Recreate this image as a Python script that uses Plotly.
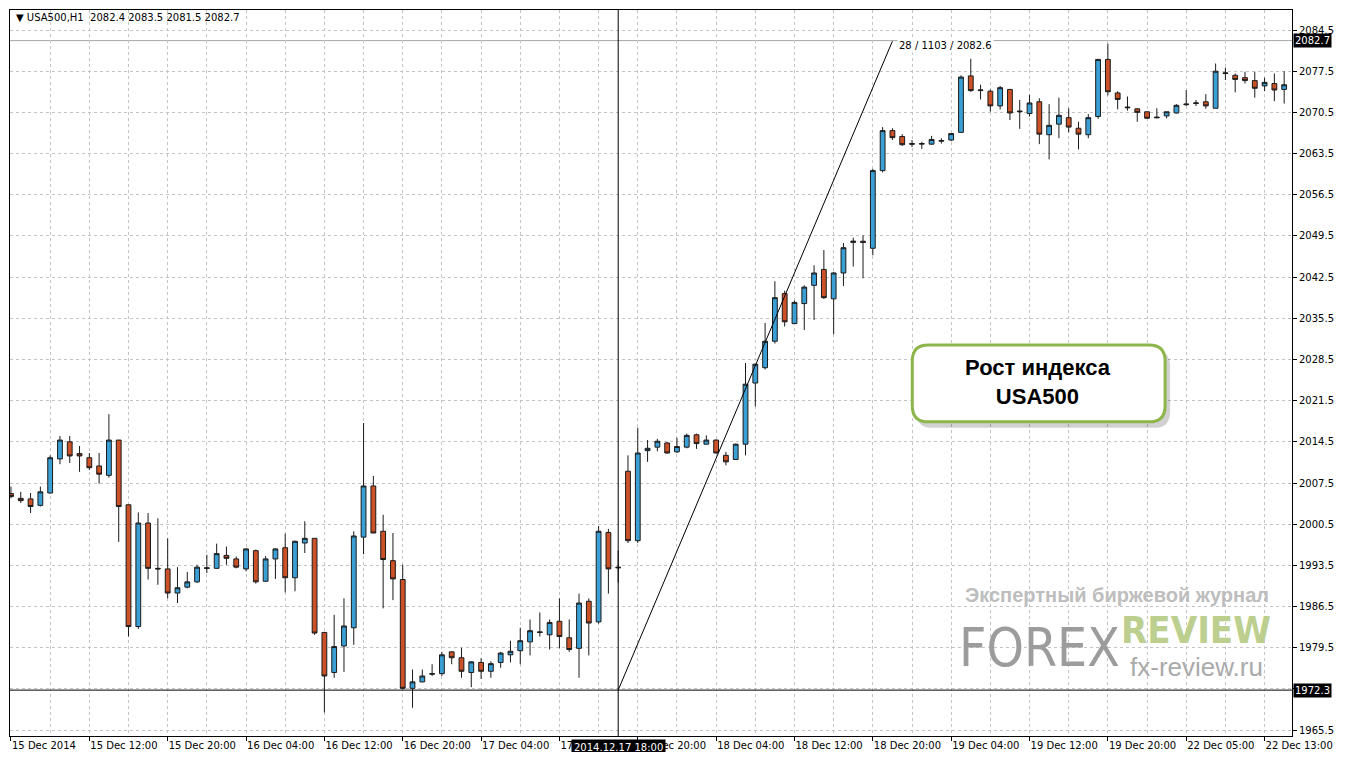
import plotly.graph_objects as go

# ---------------- data (H1 bars, index 0 .. 130) ----------------
bar_index = list(range(131))
open_ = [2005.7, 2004.9, 2004.8, 2003.7, 2005.8, 2011.6, 2014.5, 2012.5, 2011.8, 2010.4,
         2008.8, 2014.8, 2003.8, 1983.1, 2000.7, 1993.0, 1992.9, 1988.8, 1989.8, 1990.7,
         1993.1, 1993.0, 1995.2, 1994.6, 1992.9, 1996.0, 1990.8, 1994.6, 1996.5, 1991.4,
         1997.3, 1998.1, 1982.1, 1975.3, 1979.8, 1982.9, 1998.3, 2007.0, 1999.3, 1994.3,
         1991.1, 1972.6, 1973.7, 1975.0, 1975.1, 1978.8, 1977.8, 1975.3, 1977.0, 1975.5,
         1977.0, 1978.3, 1979.0, 1980.5, 1982.2, 1981.7, 1984.0, 1981.2, 1979.4, 1987.4,
         1983.9, 1999.1, 1993.2, 2009.5, 1997.7, 2013.0, 2013.6, 2014.3, 2012.8, 2013.6,
         2015.7, 2014.1, 2014.8, 2012.2, 2011.5, 2014.1, 2024.5, 2027.1, 2031.6, 2039.7,
         2034.6, 2038.0, 2041.1, 2043.8, 2038.8, 2043.2, 2048.4, 2048.6, 2047.4, 2060.6,
         2067.4, 2066.4, 2065.2, 2065.1, 2065.1, 2065.6, 2065.8, 2067.1, 2076.7, 2074.2,
         2074.1, 2071.6, 2074.4, 2070.6, 2070.3, 2072.3, 2066.7, 2068.5, 2069.6, 2067.8,
         2066.7, 2069.8, 2079.5, 2073.8, 2071.4, 2071.1, 2070.6, 2069.7, 2069.9, 2070.4,
         2071.8, 2072.0, 2072.3, 2071.2, 2077.1, 2076.8, 2076.4, 2075.9, 2075.0, 2075.4,
         2074.4]
high = [2006.9, 2006.0, 2005.8, 2006.9, 2012.2, 2015.5, 2015.5, 2013.8, 2012.6, 2012.6,
        2019.2, 2014.8, 2003.8, 2002.5, 2002.4, 2001.5, 1998.1, 1993.2, 1992.4, 1993.6,
        1995.3, 1997.2, 1996.7, 1995.0, 1996.4, 1996.2, 1995.1, 1996.4, 1998.9, 1997.7,
        2001.0, 1998.1, 1982.2, 1985.1, 1987.9, 1999.3, 2017.7, 2008.7, 2002.1, 1999.0,
        1993.6, 1975.8, 1975.8, 1976.7, 1978.8, 1978.9, 1979.5, 1977.2, 1977.7, 1977.2,
        1978.8, 1980.7, 1982.9, 1984.3, 1985.5, 1984.3, 1987.9, 1984.3, 1988.7, 1987.9,
        2000.2, 1999.7, 1996.0, 2012.2, 2016.9, 2014.8, 2015.0, 2014.5, 2015.2, 2015.9,
        2015.9, 2015.6, 2014.9, 2012.8, 2014.2, 2027.9, 2027.8, 2034.7, 2041.8, 2040.2,
        2038.5, 2041.1, 2044.5, 2047.1, 2043.4, 2048.3, 2049.2, 2049.6, 2060.9, 2068.0,
        2067.8, 2066.8, 2065.8, 2065.5, 2066.5, 2066.1, 2066.9, 2076.8, 2079.6, 2075.2,
        2074.4, 2075.0, 2074.4, 2072.6, 2073.5, 2072.9, 2071.9, 2073.0, 2071.2, 2068.9,
        2070.2, 2079.5, 2082.2, 2074.1, 2073.2, 2071.2, 2070.6, 2071.2, 2070.6, 2071.9,
        2074.3, 2072.6, 2073.6, 2078.8, 2078.1, 2077.1, 2077.4, 2077.4, 2076.4, 2077.1,
        2077.5]
low = [2004.9, 2004.1, 2002.4, 2003.5, 2005.7, 2010.7, 2010.9, 2009.4, 2009.7, 2007.4,
       2008.4, 1997.5, 1981.4, 1982.7, 1991.1, 1990.2, 1987.9, 1987.1, 1989.6, 1990.5,
       1992.2, 1992.9, 1993.6, 1993.0, 1992.5, 1990.4, 1990.7, 1991.2, 1988.9, 1989.1,
       1995.6, 1981.7, 1968.5, 1974.4, 1975.4, 1980.0, 1995.4, 1999.0, 1986.2, 1987.6,
       1972.4, 1969.3, 1973.6, 1974.7, 1974.7, 1976.7, 1974.4, 1972.8, 1974.2, 1974.4,
       1976.1, 1977.0, 1976.7, 1978.2, 1981.4, 1979.2, 1979.4, 1978.8, 1974.4, 1978.2,
       1983.6, 1988.7, 1990.6, 1997.3, 1997.3, 2011.1, 2012.9, 2012.5, 2012.6, 2013.4,
       2013.3, 2014.1, 2012.5, 2010.5, 2011.5, 2012.2, 2020.5, 2026.8, 2031.2, 2034.1,
       2034.6, 2033.5, 2035.2, 2038.8, 2032.8, 2041.0, 2044.3, 2042.3, 2046.2, 2060.3,
       2065.8, 2064.8, 2064.6, 2064.3, 2065.0, 2065.2, 2065.6, 2067.1, 2074.0, 2072.7,
       2070.6, 2071.0, 2069.2, 2067.7, 2069.8, 2065.1, 2062.5, 2066.1, 2067.1, 2064.2,
       2066.1, 2069.4, 2073.4, 2071.0, 2070.8, 2068.9, 2069.4, 2069.5, 2069.5, 2070.3,
       2071.6, 2071.6, 2071.1, 2071.2, 2076.0, 2073.9, 2075.4, 2073.0, 2074.1, 2072.4,
       2072.0]
close = [2005.2, 2004.5, 2003.5, 2006.0, 2011.8, 2014.8, 2012.1, 2012.1, 2010.1, 2009.0,
         2014.8, 2003.5, 1983.1, 2000.7, 1993.0, 1992.9, 1988.8, 1989.7, 1990.7, 1993.2,
         1993.0, 1995.5, 1994.7, 1993.2, 1996.3, 1990.7, 1994.6, 1996.3, 1991.4, 1997.6,
         1998.1, 1982.0, 1974.7, 1979.7, 1983.2, 1998.5, 2007.0, 1999.0, 1994.5, 1991.2,
         1972.6, 1973.7, 1974.7, 1975.1, 1978.3, 1977.8, 1975.5, 1977.1, 1975.5, 1976.8,
         1978.6, 1978.9, 1980.7, 1982.4, 1982.1, 1983.8, 1981.4, 1979.2, 1987.1, 1983.7,
         1999.3, 1992.9, 1993.1, 1997.7, 2012.6, 2013.4, 2014.6, 2012.6, 2013.7, 2015.6,
         2014.2, 2014.8, 2012.6, 2011.1, 2014.1, 2024.3, 2027.7, 2031.6, 2039.0, 2034.9,
         2038.2, 2040.8, 2043.2, 2039.0, 2043.2, 2047.5, 2048.6, 2048.4, 2060.6, 2067.4,
         2066.2, 2065.0, 2065.1, 2065.2, 2065.9, 2065.7, 2066.9, 2076.5, 2074.2, 2074.3,
         2071.6, 2074.7, 2070.4, 2070.7, 2072.1, 2066.8, 2068.3, 2070.0, 2068.0, 2066.8,
         2069.6, 2079.5, 2074.0, 2072.7, 2071.3, 2070.5, 2069.5, 2069.6, 2070.6, 2071.7,
         2071.9, 2072.1, 2071.6, 2077.5, 2077.2, 2076.1, 2075.9, 2074.6, 2075.6, 2074.3,
         2075.2]

x_tick_bars = [0, 8, 16, 24, 32, 40, 48, 56, 64, 72, 80, 88, 96, 104, 112, 120, 128]
x_tick_labels = ["15 Dec 2014", "15 Dec 12:00", "15 Dec 20:00", "16 Dec 04:00",
                 "16 Dec 12:00", "16 Dec 20:00", "17 Dec 04:00", "17 Dec 12:00",
                 "17 Dec 20:00", "18 Dec 04:00", "18 Dec 12:00", "18 Dec 20:00",
                 "19 Dec 04:00", "19 Dec 12:00", "19 Dec 20:00", "22 Dec 05:00",
                 "22 Dec 13:00"]
y_ticks = [1965.5, 1972.5, 1979.5, 1986.5, 1993.5, 2000.5, 2007.5, 2014.5, 2021.5,
           2028.5, 2035.5, 2042.5, 2049.5, 2056.5, 2063.5, 2070.5, 2077.5, 2084.5]
# 1972.5 is hidden under the 1972.3 level box in the reference
y_tick_labels = ["1965.5", "", "1979.5", "1986.5", "1993.5", "2000.5", "2007.5", "2014.5",
                 "2021.5", "2028.5", "2035.5", "2042.5", "2049.5", "2056.5", "2063.5",
                 "2070.5", "2077.5", "2084.5"]

symbol = "USA500,H1"
last_ohlc = [2082.4, 2083.5, 2081.5, 2082.7]
bid_price = 2082.7
level_price = 1972.3
cross_bar = 62
cross_label = "2014.12.17 18:00"
trend_bars = [62, 90]
trend_prices = [1972.3, 2082.6]
callout_text = "Рост индекса<br>USA500"

# ---------------- layout geometry ----------------
# The page body has an 8px margin, so the figure is drawn 8px smaller and
# reference pixel positions are shifted by OFF.
OFF = 8
W, H = 1350 - 2 * OFF, 760 - 2 * OFF
L, R, T, B = 9 - OFF, 1292 - OFF, 9 - OFF, 737 - OFF
PW, PH = R - L, B - T


def px(x):  # reference pixel x -> paper
    return (x - OFF - L) / PW


def py(y):  # reference pixel y -> paper
    return (B - (y - OFF)) / PH


BLUE = "#3A9FD5"
RED = "#CC5127"
FONT = "DejaVu Sans"

fig = go.Figure()
fig.add_trace(go.Candlestick(
    x=bar_index, open=open_, high=high, low=low, close=close,
    increasing=dict(fillcolor=BLUE, line=dict(color="#1b1b1b", width=1)),
    decreasing=dict(fillcolor=RED, line=dict(color="#1b1b1b", width=1)),
    whiskerwidth=0, showlegend=False, hoverinfo="skip",
))

shapes = []
shapes.append(dict(type="line", xref="paper", yref="y", x0=0, x1=1, y0=bid_price, y1=bid_price,
                   line=dict(color="#a8a8a8", width=1), layer="below"))
shapes.append(dict(type="line", xref="paper", yref="y", x0=0, x1=1, y0=level_price, y1=level_price,
                   line=dict(color="#000000", width=1)))
shapes.append(dict(type="line", xref="x", yref="paper", x0=cross_bar, x1=cross_bar, y0=0, y1=1,
                   line=dict(color="#000000", width=1)))
shapes.append(dict(type="line", xref="x", yref="y", x0=trend_bars[0], x1=trend_bars[1],
                   y0=trend_prices[0], y1=trend_prices[1], line=dict(color="#000000", width=1)))


def rrect_path(x0, y0, x1, y1, r):
    def P(x, y):
        return f"{px(x):.5f},{py(y):.5f}"
    return (f"M {P(x0 + r, y0)} L {P(x1 - r, y0)} Q {P(x1, y0)} {P(x1, y0 + r)} "
            f"L {P(x1, y1 - r)} Q {P(x1, y1)} {P(x1 - r, y1)} L {P(x0 + r, y1)} "
            f"Q {P(x0, y1)} {P(x0, y1 - r)} L {P(x0, y0 + r)} Q {P(x0, y0)} {P(x0 + r, y0)} Z")


shapes.append(dict(type="path", xref="paper", yref="paper", path=rrect_path(916, 350, 1170, 428, 16),
                   fillcolor="rgba(0,0,0,0.18)", line=dict(width=0)))
shapes.append(dict(type="path", xref="paper", yref="paper", path=rrect_path(912, 345, 1165, 422, 16),
                   fillcolor="#ffffff", line=dict(color="#8DB64A", width=3)))

annotations = []
header = "\u25BC " + symbol + "\u00a0\u00a0" + " ".join(f"{v:.1f}" for v in last_ohlc)
annotations.append(dict(xref="paper", yref="paper", x=px(13), y=py(17), xanchor="left", yanchor="middle",
                        text=header, showarrow=False, font=dict(family=FONT, size=10, color="#000")))
for val in [bid_price, level_price]:
    annotations.append(dict(xref="paper", yref="y", x=1, y=val, xanchor="left", yanchor="middle",
                            text=f"{val:.1f}", showarrow=False, bgcolor="#000000", borderpad=1,
                            xshift=1, font=dict(family=FONT, size=10, color="#ffffff")))
annotations.append(dict(xref="x", yref="paper", x=cross_bar, y=0, xanchor="center", yanchor="top",
                        yshift=-3, text=cross_label, showarrow=False, bgcolor="#000000", borderpad=2,
                        font=dict(family=FONT, size=10, color="#ffffff")))
n_bars = trend_bars[1] - trend_bars[0]
n_pts = round((trend_prices[1] - trend_prices[0]) * 10)
annotations.append(dict(xref="x", yref="y", x=trend_bars[1] + 0.5, y=trend_prices[1], xanchor="left",
                        yanchor="top", yshift=3, text=f"{n_bars} / {n_pts} / {trend_prices[1]:.1f}",
                        showarrow=False, bgcolor="#ffffff", borderpad=1,
                        font=dict(family=FONT, size=10, color="#000")))
annotations.append(dict(xref="paper", yref="paper", x=px(1038), y=py(382), xanchor="center", yanchor="middle",
                        text="<b>" + callout_text + "</b>", showarrow=False,
                        font=dict(family="Liberation Sans, Arial, sans-serif", size=22, color="#000")))
# watermark
annotations.append(dict(xref="paper", yref="paper", x=px(1117), y=py(596), xanchor="center", yanchor="middle",
                        text="<b>Экспертный биржевой журнал</b>", showarrow=False,
                        font=dict(family="Liberation Sans, Arial, sans-serif", size=20, color="#bdbdbd")))
annotations.append(dict(xref="paper", yref="paper", x=px(1039), y=py(648), xanchor="center", yanchor="middle",
                        text="FOREX", showarrow=False,
                        font=dict(family="Liberation Sans Narrow, DejaVu Sans Condensed, sans-serif",
                                  size=53, color="#9c9c9c")))
annotations.append(dict(xref="paper", yref="paper", x=px(1196), y=py(631), xanchor="center", yanchor="middle",
                        text="<b>REVIEW</b>", showarrow=False,
                        font=dict(family="Liberation Sans Narrow, DejaVu Sans Condensed, sans-serif",
                                  size=38, color="#bccf8f")))
annotations.append(dict(xref="paper", yref="paper", x=px(1196), y=py(668), xanchor="center", yanchor="middle",
                        text="fx-review.ru", showarrow=False,
                        font=dict(family="Liberation Sans, Arial, sans-serif", size=26, color="#aaaaaa")))

fig.update_layout(
    width=W, height=H,
    margin=dict(l=L, r=W - R, t=T, b=H - B, pad=0),
    paper_bgcolor="#ffffff", plot_bgcolor="#ffffff",
    showlegend=False,
    shapes=shapes, annotations=annotations,
    font=dict(family=FONT, size=10, color="#000"),
)
fig.update_xaxes(
    range=[-0.1, 130.8], rangeslider=dict(visible=False),
    tickmode="array", tickvals=x_tick_bars, ticktext=x_tick_labels,
    ticks="outside", ticklen=4, tickcolor="#000", ticklabelposition="outside right",
    tickfont=dict(family=FONT, size=10, color="#000"),
    showgrid=True, gridcolor="#c4c4c4", griddash="3px,3px", gridwidth=1,
    minor=dict(tickvals=list(range(4, 131, 8)), showgrid=True, gridcolor="#c4c4c4",
               griddash="3px,3px", ticks=""),
    showline=True, linecolor="#000", linewidth=1, mirror=True, zeroline=False,
)
fig.update_yaxes(
    range=[1964.5, 2087.9], side="right",
    tickmode="array", tickvals=y_ticks, ticktext=y_tick_labels,
    ticks="outside", ticklen=4, tickcolor="#000",
    tickfont=dict(family=FONT, size=10, color="#000"),
    showgrid=True, gridcolor="#c4c4c4", griddash="3px,3px", gridwidth=1,
    showline=True, linecolor="#000", linewidth=1, mirror=True, zeroline=False,
)

fig.write_html("out.html")
